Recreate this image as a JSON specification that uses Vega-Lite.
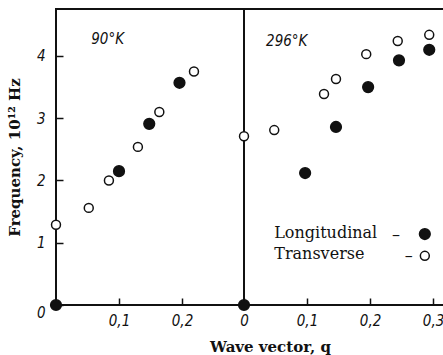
{
  "$schema": "https://vega.github.io/schema/vega-lite/v6.json",
  "background": "white",
  "padding": {"left": 6, "top": 8, "right": 0, "bottom": 0},
  "autosize": {"type": "pad"},
  "spacing": 0,
  "bounds": "flush",
  "config": {
    "view": {"stroke": "#111", "strokeWidth": 2},
    "concat": {"spacing": 0},
    "axis": {
      "domain": false,
      "grid": false,
      "tickColor": "#111",
      "tickWidth": 1.5,
      "tickSize": -7,
      "labelFlush": false,
      "labelFont": "Liberation Sans Narrow, DejaVu Sans Condensed, DejaVu Sans",
      "labelFontStyle": "italic",
      "labelFontSize": 15,
      "labelColor": "#111",
      "titleFont": "DejaVu Serif",
      "titleFontSize": 14,
      "titleFontWeight": "bold",
      "titleColor": "#111"
    }
  },
  "datasets": {
    "p90": [
      {"q": 0, "f": 0, "mode": "Longitudinal"},
      {"q": 0.1, "f": 2.15, "mode": "Longitudinal"},
      {"q": 0.148, "f": 2.91, "mode": "Longitudinal"},
      {"q": 0.196, "f": 3.57, "mode": "Longitudinal"},
      {"q": 0, "f": 1.29, "mode": "Transverse"},
      {"q": 0.052, "f": 1.56, "mode": "Transverse"},
      {"q": 0.084, "f": 2.0, "mode": "Transverse"},
      {"q": 0.13, "f": 2.54, "mode": "Transverse"},
      {"q": 0.164, "f": 3.1, "mode": "Transverse"},
      {"q": 0.219, "f": 3.75, "mode": "Transverse"}
    ],
    "p296": [
      {"q": 0, "f": 0, "mode": "Longitudinal"},
      {"q": 0.097, "f": 2.12, "mode": "Longitudinal"},
      {"q": 0.146, "f": 2.86, "mode": "Longitudinal"},
      {"q": 0.197, "f": 3.5, "mode": "Longitudinal"},
      {"q": 0.246, "f": 3.93, "mode": "Longitudinal"},
      {"q": 0.294, "f": 4.1, "mode": "Longitudinal"},
      {"q": 0, "f": 2.71, "mode": "Transverse"},
      {"q": 0.048, "f": 2.81, "mode": "Transverse"},
      {"q": 0.127, "f": 3.39, "mode": "Transverse"},
      {"q": 0.146, "f": 3.63, "mode": "Transverse"},
      {"q": 0.194, "f": 4.03, "mode": "Transverse"},
      {"q": 0.244, "f": 4.24, "mode": "Transverse"},
      {"q": 0.294, "f": 4.34, "mode": "Transverse"}
    ],
    "legendText": [
      {"q": 0.048, "f": 1.16, "t": "Longitudinal"},
      {"q": 0.048, "f": 0.82, "t": "Transverse"},
      {"q": 0.235, "f": 1.13, "t": "–"},
      {"q": 0.255, "f": 0.79, "t": "–"}
    ],
    "legendSym": [
      {"q": 0.287, "f": 1.14, "mode": "Longitudinal"},
      {"q": 0.287, "f": 0.79, "mode": "Transverse"}
    ]
  },
  "hconcat": [
    {
      "width": 188,
      "height": 296,
      "layer": [
        {
          "data": {"name": "p90"},
          "mark": {"type": "point", "filled": true, "stroke": "#111", "strokeWidth": 1.5, "clip": false, "opacity": 1},
          "encoding": {
            "x": {"field": "q", "type": "quantitative",
              "scale": {"domain": [0, 0.2984], "nice": false, "zero": false},
              "axis": {"values": [0.1, 0.2], "title": null, "labelPadding": 15,
                "labelExpr": "replace(format(datum.value, '.1f'), '.', ',')"}},
            "y": {"field": "f", "type": "quantitative",
              "scale": {"domain": [0, 4.755], "nice": false, "zero": false},
              "axis": {"values": [0, 1, 2, 3, 4], "title": "Frequency, 10¹² Hz", "labelPadding": 18, "titlePadding": 14,
                "labelExpr": "format(datum.value, 'd')", "titleFontSize": 15,
                "labelBaseline": {"condition": {"test": "datum.value == 0", "value": "top"}, "value": "middle"}}},
            "fill": {"field": "mode", "type": "nominal", "scale": {"domain": ["Longitudinal", "Transverse"], "range": ["#111", "white"]}, "legend": null},
            "size": {"field": "mode", "type": "nominal", "scale": {"domain": ["Longitudinal", "Transverse"], "range": [115, 80]}, "legend": null}
          }
        },
        {
          "data": {"values": [{"q": 0.056, "f": 4.27, "t": "90°K"}]},
          "mark": {"type": "text", "align": "left", "baseline": "middle", "font": "Liberation Sans Narrow, DejaVu Sans Condensed, DejaVu Sans", "fontStyle": "italic", "fontSize": 15, "color": "#111"},
          "encoding": {
            "x": {"field": "q", "type": "quantitative"},
            "y": {"field": "f", "type": "quantitative"},
            "text": {"field": "t"}
          }
        }
      ]
    },
    {
      "width": 210,
      "height": 296,
      "layer": [
        {
          "data": {"name": "p296"},
          "mark": {"type": "point", "filled": true, "stroke": "#111", "strokeWidth": 1.5, "clip": false, "opacity": 1},
          "encoding": {
            "x": {"field": "q", "type": "quantitative",
              "scale": {"domain": [0, 0.3333], "nice": false, "zero": false},
              "axis": {"values": [0, 0.1, 0.2, 0.3], "title": "Wave vector, q", "labelPadding": 15,
                "labelExpr": "datum.value == 0 ? '0' : replace(format(datum.value, '.1f'), '.', ',')",
                "titleX": 26, "titleY": 46, "titleAlign": "center", "titleBaseline": "alphabetic", "titleFontSize": 15}},
            "y": {"field": "f", "type": "quantitative",
              "scale": {"domain": [0, 4.755], "nice": false, "zero": false},
              "axis": null},
            "fill": {"field": "mode", "type": "nominal", "scale": {"domain": ["Longitudinal", "Transverse"], "range": ["#111", "white"]}, "legend": null},
            "size": {"field": "mode", "type": "nominal", "scale": {"domain": ["Longitudinal", "Transverse"], "range": [115, 80]}, "legend": null}
          }
        },
        {
          "data": {"name": "legendSym"},
          "mark": {"type": "point", "filled": true, "stroke": "#111", "strokeWidth": 1.5, "clip": false, "opacity": 1},
          "encoding": {
            "x": {"field": "q", "type": "quantitative"},
            "y": {"field": "f", "type": "quantitative"},
            "fill": {"field": "mode", "type": "nominal", "legend": null},
            "size": {"field": "mode", "type": "nominal", "legend": null}
          }
        },
        {
          "data": {"name": "legendText"},
          "mark": {"type": "text", "align": "left", "baseline": "middle", "font": "DejaVu Serif", "fontSize": 16, "color": "#111"},
          "encoding": {
            "x": {"field": "q", "type": "quantitative"},
            "y": {"field": "f", "type": "quantitative"},
            "text": {"field": "t"}
          }
        },
        {
          "data": {"values": [{"q": 0.035, "f": 4.24, "t": "296°K"}]},
          "mark": {"type": "text", "align": "left", "baseline": "middle", "font": "Liberation Sans Narrow, DejaVu Sans Condensed, DejaVu Sans", "fontStyle": "italic", "fontSize": 15, "color": "#111"},
          "encoding": {
            "x": {"field": "q", "type": "quantitative"},
            "y": {"field": "f", "type": "quantitative"},
            "text": {"field": "t"}
          }
        }
      ]
    }
  ]
}
